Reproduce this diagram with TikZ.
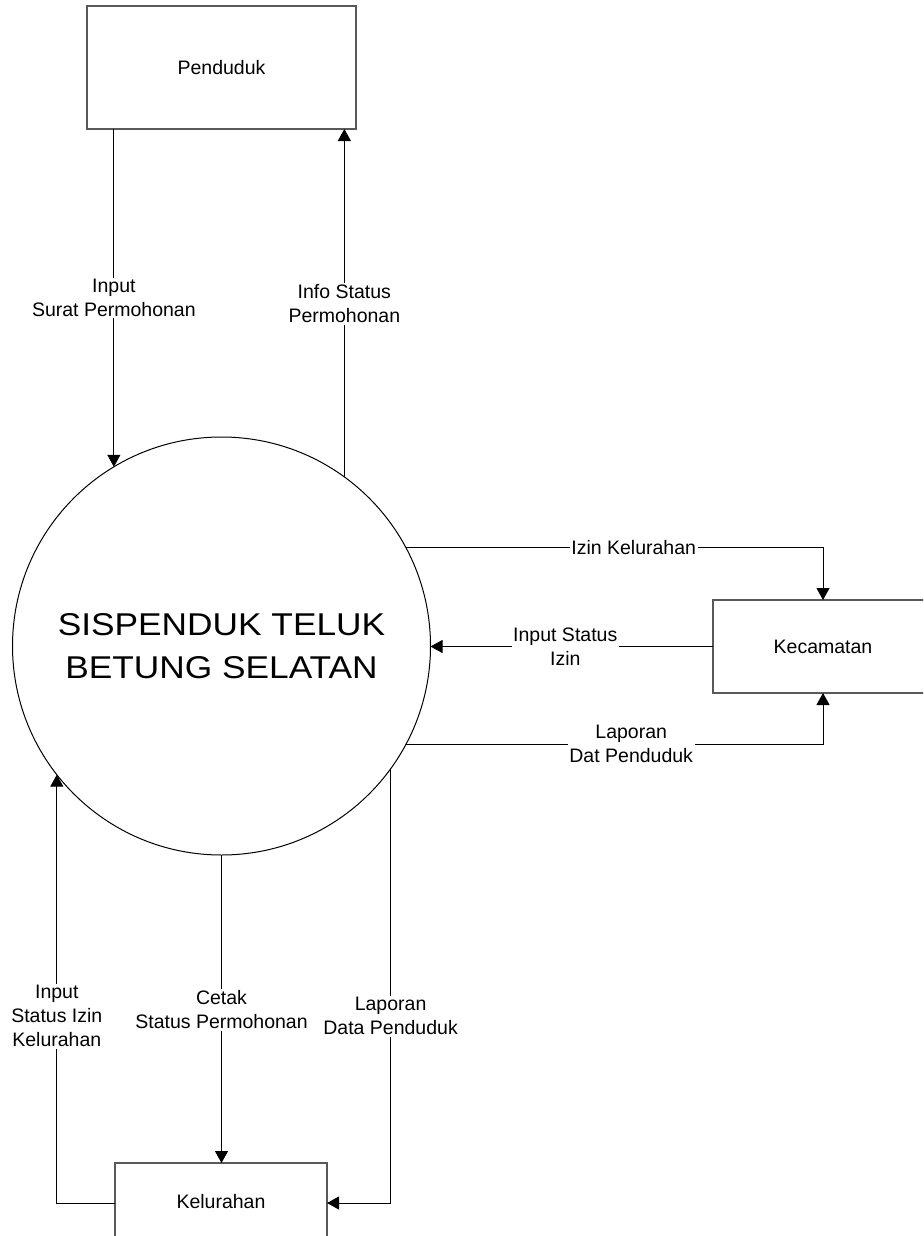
\documentclass[tikz,border=0pt]{standalone}
\usepackage{fontspec}
\setmainfont{Liberation Sans}
\newfontfamily\bigfont[FakeStretch=1.12]{Liberation Sans}
\usetikzlibrary{arrows.meta}
\tikzset{
  box/.style={draw=black!65, line width=1.3pt, rectangle, inner sep=0pt, outer sep=0pt, fill=white,
    font=\fontsize{19.5}{24}\selectfont},
  proc/.style={draw=black, line width=1pt, circle, minimum size=418pt, inner sep=0pt, outer sep=0pt,
    align=center, font=\bigfont\fontsize{31.5}{43}\selectfont},
  flow/.style={draw=black, line width=1pt, -{Triangle[length=12pt,width=13pt]}},
  plain/.style={draw=black, line width=1pt},
  lbl/.style={fill=white, inner sep=1.5pt, align=center, font=\fontsize{19.5}{24}\selectfont}
}
\begin{document}
\begin{tikzpicture}[x=1pt,y=-1pt]
\useasboundingbox (0,0) rectangle (923,1236);
\clip (0,0) rectangle (923,1236);
\fill[white] (0,0) rectangle (923,1236);
% nodes
\node[box, minimum width=269pt, minimum height=123pt] (pend) at (221.5,67.5) {Penduduk};
\node[proc] (sys) at (221.5,646) {SISPENDUK TELUK\\BETUNG SELATAN};
\node[box, minimum width=220pt, minimum height=93pt] (kec) at (823,646.5) {};
\node[font=\fontsize{19.5}{24}\selectfont] (kectxt) at (823,647) {Kecamatan};
\node[box, minimum width=212pt, minimum height=80pt] (kel) at (221,1203) {};
\node[font=\fontsize{19.5}{24}\selectfont] (keltxt) at (221,1202) {Kelurahan};
% top connectors
\draw[flow] (sys.121.6 |- pend.south) -- node[lbl, pos=0.5] {Input\\Surat Permohonan} (sys.121.6);
\draw[flow] (sys.54.46) -- node[lbl, pos=0.497] {Info Status\\Permohonan} (sys.54.46 |- pend.south);
% right connectors
\draw[flow] (sys.28.6) -| node[lbl, pos=0.273] {Izin Kelurahan} (kec.north);
\draw[flow] (kec.west) -- node[lbl, pos=0.523] {Input Status\\Izin} (sys.east |- kec.west);
\draw[flow] (sys.-28.9) -| node[lbl, pos=0.27] {Laporan\\Dat Penduduk} (kec.south);
% bottom connectors
\draw[flow] (kel.west) -| node[lbl, pos=0.718] {Input\\Status Izin\\Kelurahan} (sys.218.97);
\draw[flow] (sys.south) -- node[lbl, pos=0.503] {Cetak\\Status Permohonan} (kel.north -| sys.south);
\draw[flow] (sys.-36.96) |- node[lbl, pos=0.285] {Laporan\\Data Penduduk} (kel.east);
\end{tikzpicture}
\end{document}
